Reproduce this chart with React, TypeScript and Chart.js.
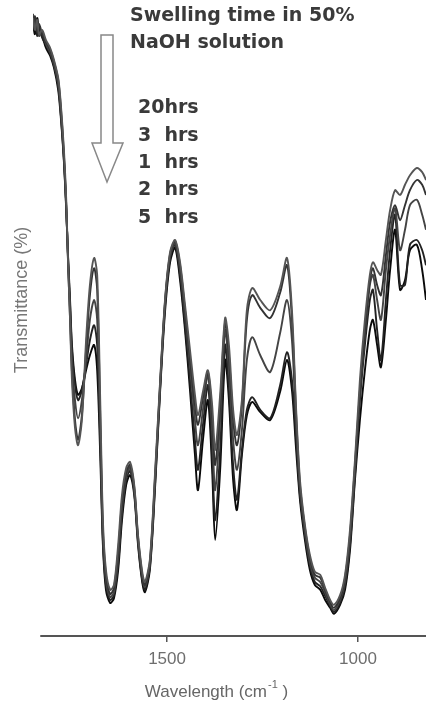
import React, { useEffect, useRef } from "react";
import { Chart, registerables } from "chart.js";

Chart.register(...registerables);

// Wavenumber (cm-1) sampling positions read along the x axis
const wavenumbers = [
  1851, 1846, 1840, 1835, 1827, 1817, 1806, 1796, 1785, 1778,
  1770, 1764, 1759, 1754, 1749, 1741, 1733, 1723, 1712, 1702,
  1691, 1683, 1675, 1668, 1660, 1649, 1639, 1628, 1618, 1607,
  1597, 1586, 1576, 1565, 1558, 1545, 1531, 1518, 1505, 1492,
  1479, 1466, 1453, 1440, 1427, 1419, 1406, 1393, 1382, 1374,
  1361, 1348, 1338, 1327, 1317, 1304, 1291, 1277, 1256, 1230,
  1204, 1186, 1173, 1162, 1152, 1139, 1126, 1113, 1099, 1086,
  1073, 1063, 1047, 1034, 1021, 1008, 995, 982, 969, 961,
  950, 940, 927, 916, 903, 890, 877, 864, 846, 832,
  822,
];

const t20hrs = [
  103.0, 101.0, 102.7, 100.3, 101.0, 99.3, 98.0, 96.0, 93.0, 88.5,
  81.0, 72.7, 61.8, 52.7, 42.7, 34.7, 31.8, 36.0, 49.3, 58.5,
  63.0, 60.2, 39.3, 19.3, 11.0, 7.7, 8.5, 15.2, 23.5, 28.0,
  29.0, 25.2, 16.8, 10.7, 9.0, 12.7, 27.7, 42.7, 56.3, 64.0,
  66.0, 62.3, 55.2, 47.7, 40.2, 36.8, 40.7, 44.3, 38.5, 31.0,
  40.2, 53.0, 48.5, 37.7, 33.5, 39.3, 54.3, 58.0, 56.0, 54.3,
  58.2, 63.0, 54.3, 37.7, 26.0, 18.5, 13.5, 10.7, 10.2, 8.0,
  6.0, 5.2, 6.8, 10.2, 17.7, 29.3, 42.7, 52.7, 60.2, 62.3,
  61.0, 60.2, 66.0, 71.0, 74.3, 73.5, 75.2, 76.8, 78.0, 77.3,
  76.0,
];

const t3hrs = [
  101.8, 103.3, 100.7, 102.0, 100.3, 99.0, 97.7, 95.7, 92.7, 88.0,
  80.2, 71.8, 61.8, 53.0, 44.0, 36.0, 32.7, 36.8, 47.7, 56.8,
  61.3, 57.7, 36.8, 18.0, 10.2, 7.0, 8.0, 14.0, 22.3, 27.3,
  28.5, 24.8, 16.5, 10.2, 8.5, 12.3, 27.0, 42.3, 56.0, 63.7,
  65.8, 61.8, 54.3, 46.3, 38.5, 35.2, 39.7, 44.0, 36.8, 28.5,
  38.5, 52.3, 46.8, 36.0, 31.8, 38.5, 52.7, 56.8, 54.7, 53.0,
  57.2, 61.8, 52.7, 36.8, 25.2, 18.0, 13.0, 10.2, 9.7, 7.7,
  5.7, 4.7, 6.3, 9.7, 16.8, 28.5, 41.0, 51.0, 59.3, 61.3,
  58.5, 56.8, 63.5, 69.0, 71.8, 69.3, 71.8, 74.3, 76.0, 75.2,
  73.5,
];

const t1hrs = [
  103.7, 101.3, 102.0, 100.0, 100.7, 98.7, 97.3, 95.3, 92.0, 87.3,
  79.7, 71.8, 62.3, 54.3, 46.0, 39.3, 36.3, 39.3, 46.0, 52.7,
  56.0, 52.7, 34.3, 16.8, 9.3, 6.5, 7.3, 13.0, 21.3, 26.7,
  28.0, 24.3, 16.0, 9.8, 8.2, 11.8, 26.5, 41.8, 55.7, 63.3,
  65.5, 61.0, 53.5, 45.2, 36.0, 31.8, 37.7, 43.5, 34.3, 24.3,
  36.0, 51.0, 44.3, 32.7, 27.7, 34.3, 46.0, 49.8, 46.8, 44.0,
  50.5, 56.0, 49.3, 35.2, 24.3, 17.3, 12.3, 9.7, 9.0, 7.2,
  5.3, 4.3, 6.0, 9.0, 16.0, 27.7, 40.2, 50.2, 58.5, 60.2,
  56.0, 52.7, 61.0, 66.8, 71.3, 64.3, 67.7, 71.8, 72.7, 70.2,
  67.7,
];

const t2hrs = [
  101.0, 102.7, 100.0, 101.7, 99.7, 98.5, 97.0, 95.0, 91.7, 86.8,
  79.3, 71.3, 62.7, 55.2, 47.7, 41.8, 39.3, 41.0, 45.2, 49.3,
  51.8, 48.5, 32.7, 16.0, 8.5, 6.0, 6.8, 12.0, 20.3, 26.0,
  27.5, 24.0, 15.7, 9.3, 7.7, 11.5, 25.8, 41.5, 55.2, 63.0,
  65.2, 60.2, 51.8, 42.7, 32.7, 27.7, 35.2, 41.8, 30.2, 19.3,
  31.0, 48.5, 41.0, 28.5, 22.7, 31.0, 37.7, 39.8, 37.7, 36.3,
  41.8, 47.3, 42.7, 32.7, 23.5, 16.8, 11.7, 9.0, 8.3, 6.7,
  5.0, 4.0, 5.5, 8.3, 15.2, 26.8, 39.3, 48.5, 56.0, 57.7,
  51.0, 46.0, 56.0, 64.3, 70.2, 58.5, 58.5, 65.2, 66.0, 64.3,
  61.8,
];

const t5hrs = [
  102.3, 100.3, 103.0, 101.0, 100.0, 98.0, 96.7, 94.7, 91.0, 86.3,
  79.0, 71.0, 63.0, 56.0, 48.5, 42.7, 40.2, 41.3, 44.3, 46.8,
  48.5, 44.3, 30.2, 15.2, 7.7, 5.5, 6.3, 11.0, 19.3, 25.2,
  26.8, 23.5, 15.2, 9.0, 7.3, 11.0, 25.2, 41.0, 54.3, 62.3,
  64.7, 59.3, 51.0, 41.0, 30.2, 24.3, 32.7, 39.3, 27.7, 16.0,
  27.7, 46.0, 39.3, 26.0, 21.0, 30.2, 36.8, 39.0, 37.3, 36.0,
  40.7, 46.0, 41.0, 31.0, 22.7, 16.0, 11.0, 8.5, 7.7, 6.0,
  4.7, 3.7, 5.2, 7.7, 14.3, 26.0, 36.0, 44.3, 51.0, 52.7,
  48.5, 44.8, 52.7, 61.0, 67.7, 57.7, 59.3, 64.3, 65.2, 61.0,
  56.0,
];

const seriesLabels = ["20hrs", "3  hrs", "1  hrs", "2  hrs", "5  hrs"];
const seriesValues = [t20hrs, t3hrs, t1hrs, t2hrs, t5hrs];
const seriesColors = ["#555555", "#333333", "#444444", "#222222", "#0a0a0a"];
const xTicks = [1500, 1000];
const titleLines = ["Swelling time in 50%", "NaOH solution"];
const xTitle = "Wavelength (cm";
const xTitleSup = "-1";
const xTitleEnd = " )";
const yTitle = "Transmittance (%)";

const overlayPlugin = {
  id: "overlay",
  afterDraw(chart: any) {
    const ctx = chart.ctx;
    const area = chart.chartArea;
    const xs = chart.scales.x;
    ctx.save();
    // axis line
    ctx.strokeStyle = "#555";
    ctx.lineWidth = 2;
    ctx.beginPath();
    ctx.moveTo(xs.getPixelForValue(1832), area.bottom);
    ctx.lineTo(area.right, area.bottom);
    ctx.stroke();

    // annotation title
    ctx.fillStyle = "#3a3a3a";
    ctx.font = "bold 19px 'DejaVu Sans'";
    ctx.textBaseline = "middle";
    ctx.textAlign = "left";
    ctx.fillText(titleLines[0], 130, 16);
    ctx.fillText(titleLines[1], 130, 43);

    // legend labels
    const ys = [108, 136, 163, 190, 218];
    seriesLabels.forEach((lab, i) => ctx.fillText(lab, 138, ys[i]));

    // hollow arrow
    ctx.strokeStyle = "#888";
    ctx.lineWidth = 1.5;
    ctx.fillStyle = "#fff";
    ctx.beginPath();
    ctx.moveTo(101, 35);
    ctx.lineTo(113, 35);
    ctx.lineTo(113, 143);
    ctx.lineTo(123, 143);
    ctx.lineTo(107, 182);
    ctx.lineTo(92, 143);
    ctx.lineTo(101, 143);
    ctx.closePath();
    ctx.fill();
    ctx.stroke();

    // y title
    ctx.fillStyle = "#777";
    ctx.font = "18px 'Liberation Sans'";
    ctx.textAlign = "center";
    ctx.save();
    ctx.translate(22, 300);
    ctx.rotate(-Math.PI / 2);
    ctx.fillText(yTitle, 0, 0);
    ctx.restore();

    // x title with superscript
    ctx.fillStyle = "#666";
    ctx.textAlign = "left";
    const mainFont = "17px 'Liberation Sans'";
    const supFont = "11px 'Liberation Sans'";
    ctx.font = mainFont;
    const w1 = ctx.measureText(xTitle).width;
    const w3 = ctx.measureText(xTitleEnd).width;
    ctx.font = supFont;
    const w2 = ctx.measureText(xTitleSup).width;
    const x0 = 216 - (w1 + w2 + w3) / 2;
    const yb = 692;
    ctx.font = mainFont;
    ctx.fillText(xTitle, x0, yb);
    ctx.font = supFont;
    ctx.fillText(xTitleSup, x0 + w1 + 1, yb - 7);
    ctx.font = mainFont;
    ctx.fillText(xTitleEnd, x0 + w1 + w2 + 1, yb);
    ctx.restore();
  },
};

export default function App() {
  const ref = useRef<HTMLCanvasElement>(null);
  useEffect(() => {
    if (!ref.current) return;
    const chart = new Chart(ref.current, {
      type: "line",
      data: {
        datasets: seriesValues.map((vals, i) => ({
          label: seriesLabels[i],
          data: wavenumbers.map((w, j) => ({ x: w, y: vals[j] })),
          borderColor: seriesColors[i],
          borderWidth: 1.9,
          pointRadius: 0,
          tension: 0.3,
          fill: false,
        })),
      },
      options: {
        responsive: false,
        animation: false,
        layout: { padding: { left: 33, top: 12, right: 0, bottom: 0 } },
        plugins: { legend: { display: false }, tooltip: { enabled: false } },
        scales: {
          x: {
            type: "linear",
            reverse: true,
            min: 822,
            max: 1851,
            afterBuildTicks: (scale: any) => {
              scale.ticks = xTicks.map((v) => ({ value: v }));
            },
            afterFit: (scale: any) => {
              scale.height = 68;
            },
            border: { display: false },
            grid: {
              display: true,
              drawOnChartArea: false,
              drawTicks: true,
              tickLength: 6,
              color: "#555",
              lineWidth: 1.5,
            },
            ticks: {
              padding: 7,
              color: "#6e6e6e",
              font: { size: 17, family: "'Liberation Sans'" },
              callback: (v: any) => String(v),
              maxRotation: 0,
            },
          },
          y: {
            display: false,
            min: 0,
            max: 104,
          },
        },
      },
      plugins: [overlayPlugin],
    });
    return () => chart.destroy();
  }, []);
  return (
    <div style={{ position: "absolute", left: 0, top: 0, width: 426, height: 704, background: "#fff" }}>
      <canvas ref={ref} width={426} height={704} style={{ display: "block" }} />
    </div>
  );
}
